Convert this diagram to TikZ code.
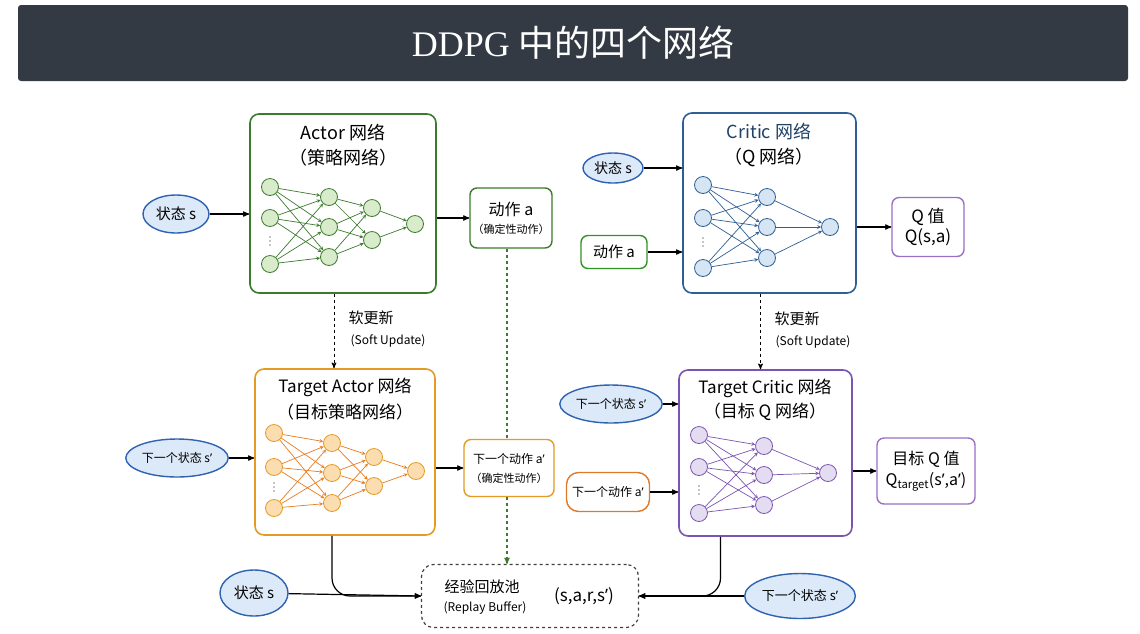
\documentclass[tikz,border=0pt]{standalone}
\usepackage{fontspec}
\setmainfont{Noto Sans CJK SC}
\newfontfamily\titlefont{Liberation Serif}
\newfontfamily\latinfont{Noto Sans}
\usepackage{tikz}
\usetikzlibrary{arrows,positioning,calc,shapes.geometric}
\definecolor{titlebg}{HTML}{333A44}
\definecolor{agreen}{HTML}{3C7A2E}
\definecolor{agreenl}{HTML}{D8ECCB}
\definecolor{cblue}{HTML}{2E5E93}
\definecolor{cbluel}{HTML}{D5E5F4}
\definecolor{torange}{HTML}{E39B25}
\definecolor{torangel}{HTML}{FBDDB0}
\definecolor{tpurple}{HTML}{7B54B0}
\definecolor{tpurplel}{HTML}{E4DCF1}
\definecolor{eblue}{HTML}{2F62B0}
\definecolor{ebluel}{HTML}{DCE9F8}
\definecolor{ored}{HTML}{E0782A}
\definecolor{qpurple}{HTML}{9B6FC4}
\newcommand{\fs}[1]{\fontsize{#1}{#1}\selectfont}
\newcommand{\pr}{{\latinfont ’}}

\begin{document}
\begin{tikzpicture}[x=1pt, y=-1pt, >=stealth', font=\fs{15}]
\tikzstyle{netbox}=[draw, rounded corners=9pt, line width=1.6pt, fill=white]
\tikzstyle{iobox}=[ellipse, draw=eblue, fill=ebluel, line width=1.4pt, inner sep=1pt]
\tikzstyle{outbox}=[draw, rounded corners=7pt, line width=1.4pt, fill=white, align=center, inner sep=2pt]
\tikzstyle{neuron}=[circle, minimum size=17pt, inner sep=0pt, line width=0.8pt]
\tikzstyle{synapse}=[->, >=stealth, line width=0.7pt]
\tikzstyle{mainarrow}=[->, line width=1.2pt]
\tikzstyle{softarrow}=[->, dashed, line width=1pt]
\useasboundingbox (0,0) rectangle (1140,633);
\fill[white] (0,0) rectangle (1140,633);
\fill[titlebg, rounded corners=3pt] (18,5) rectangle (1128,81);
\node[text=white, font=\fs{36}] (T) at (573,43) {{\titlefont DDPG} 中的四个网络};

\node[netbox, draw=agreen, minimum width=186pt, minimum height=179pt] (A) at (343,203.5) {};
\node[font=\fs{18}] (A1) at (343,133) {Actor 网络};
\node[font=\fs{18}] (A2) at (343,158) {（策略网络）};
\foreach \y [count=\i] in {187,218,264} \node[neuron, draw=agreen, fill=agreenl] (a1\i) at (270,\y) {};
\foreach \y [count=\i] in {197,227,257} \node[neuron, draw=agreen, fill=agreenl] (a2\i) at (329,\y) {};
\foreach \y [count=\i] in {208,240} \node[neuron, draw=agreen, fill=agreenl] (a3\i) at (372,\y) {};
\node[neuron, draw=agreen, fill=agreenl] (a41) at (415,224) {};
\foreach \d in {-4,0,4} \fill (270,241+\d) circle (0.7pt);
\foreach \i in {1,2,3} \foreach \j in {1,2,3} \draw[synapse, agreen] (a1\i) -- (a2\j);
\foreach \i in {1,2,3} \foreach \j in {1,2} \draw[synapse, agreen] (a2\i) -- (a3\j);
\foreach \j in {1,2} \draw[synapse, agreen] (a3\j) -- (a41);

\node[iobox, minimum width=66pt, minimum height=38pt] (S1) at (176,214) {状态 s};
\node[outbox, draw=agreen, minimum width=82pt, minimum height=60pt] (Ao) at (511,218) {{\fs{16}动作 a}\\[3pt]{\fs{11}（确定性动作）}};
\draw[mainarrow] (S1) -- (A.west |- S1);
\draw[mainarrow] (A.east |- Ao) -- (Ao);

\node[netbox, draw=cblue, minimum width=173pt, minimum height=180pt] (C) at (769.5,203) {};
\node[font=\fs{18}, text=cblue!70!black] (C1) at (769,132) {Critic 网络};
\node[font=\fs{18}] (C2) at (769,157) {（Q 网络）};
\foreach \y [count=\i] in {185,218,268} \node[neuron, draw=cblue, fill=cbluel] (c1\i) at (703,\y) {};
\foreach \y [count=\i] in {197,227,258} \node[neuron, draw=cblue, fill=cbluel] (c2\i) at (767,\y) {};
\node[neuron, draw=cblue, fill=cbluel] (c31) at (830,227) {};
\foreach \d in {-4,0,4} \fill (703,242+\d) circle (0.7pt);
\foreach \i in {1,2,3} \foreach \j in {1,2,3} \draw[synapse, cblue] (c1\i) -- (c2\j);
\foreach \i in {1,2,3} \draw[synapse, cblue] (c2\i) -- (c31);

\node[iobox, minimum width=60pt, minimum height=30pt] (S2) at (613,168) {\fs{14}状态 s};
\node[outbox, draw=agreen!80!green, minimum width=66pt, minimum height=33pt] (Ca) at (614,252) {动作 a};
\node[outbox, draw=qpurple, minimum width=72pt, minimum height=59pt] (Q) at (928,227) {{\fs{17}Q 值}\\[2pt]{\fs{17}Q(s,a)}};
\draw[mainarrow] (S2) -- (C.west |- S2);
\draw[mainarrow] (Ca) -- (C.west |- Ca);
\draw[mainarrow] (C.east |- Q) -- (Q);

\node[netbox, draw=torange, minimum width=180pt, minimum height=166pt] (TA) at (345,452) {};
\node[font=\fs{17}] (TA1) at (345,387) {Target Actor 网络};
\node[font=\fs{17}] (TA2) at (345,412) {（目标策略网络）};
\foreach \y [count=\i] in {433,467,508} \node[neuron, draw=torange, fill=torangel] (t1\i) at (274,\y) {};
\foreach \y [count=\i] in {443,473,503} \node[neuron, draw=torange, fill=torangel] (t2\i) at (332,\y) {};
\foreach \y [count=\i] in {457,486} \node[neuron, draw=torange, fill=torangel] (t3\i) at (374,\y) {};
\node[neuron, draw=torange, fill=torangel] (t41) at (416,471) {};
\foreach \d in {-4,0,4} \fill (274,487+\d) circle (0.7pt);
\foreach \i in {1,2,3} \foreach \j in {1,2,3} \draw[synapse, torange!80!red] (t1\i) -- (t2\j);
\foreach \i in {1,2,3} \foreach \j in {1,2} \draw[synapse, torange!80!red] (t2\i) -- (t3\j);
\foreach \j in {1,2} \draw[synapse, torange!80!red] (t3\j) -- (t41);

\node[iobox, minimum width=80pt, minimum height=38pt] (S3) at (177,458) {\fs{12}下一个状态 s\pr};
\node[outbox, draw=torange, minimum width=90pt, minimum height=57pt] (TAo) at (509,468) {{\fs{12}下一个动作 a\pr}\\[4pt]{\fs{11}（确定性动作）}};
\draw[mainarrow] (S3) -- (TA.west |- S3);
\draw[mainarrow] (TA.east |- TAo) -- (TAo);

\node[netbox, draw=tpurple, minimum width=173pt, minimum height=166pt] (TC) at (765.5,453) {};
\node[font=\fs{17}] (TC1) at (765,388) {Target Critic 网络};
\node[font=\fs{17}] (TC2) at (765,412) {（目标 Q 网络）};
\foreach \y [count=\i] in {435,467,513} \node[neuron, draw=tpurple, fill=tpurplel] (p1\i) at (699,\y) {};
\foreach \y [count=\i] in {446,475,505} \node[neuron, draw=tpurple, fill=tpurplel] (p2\i) at (764,\y) {};
\node[neuron, draw=tpurple, fill=tpurplel] (p31) at (828,473) {};
\foreach \d in {-4,0,4} \fill (699,490+\d) circle (0.7pt);
\foreach \i in {1,2,3} \foreach \j in {1,2,3} \draw[synapse, tpurple] (p1\i) -- (p2\j);
\foreach \i in {1,2,3} \draw[synapse, tpurple] (p2\i) -- (p31);

\node[iobox, minimum width=73pt, minimum height=38pt] (S4) at (611,404) {\fs{12}下一个状态 s\pr};
\node[outbox, draw=ored, rounded corners=12pt, minimum width=83pt, minimum height=39pt] (TCa) at (608,492) {\fs{12}下一个动作 a\pr};
\node[outbox, draw=qpurple, minimum width=98pt, minimum height=66pt] (TQ) at (926,471) {{\fs{16}目标 Q 值}\\[4pt]{\fs{16}Q\textsubscript{target}(s\pr,a\pr)}};
\draw[mainarrow] (S4) -- (TC.west |- S4);
\draw[mainarrow] (TCa) -- (TC.west |- TCa);
\draw[mainarrow] (TC.east |- TQ) -- (TQ);

\draw[softarrow] ([xshift=-9pt]A.south) -- ([xshift=-9pt]A.south |- TA.north);
\node[font=\fs{15}] (U1) at (371,318) {软更新};
\node[font=\fs{12}] (U2) at (388,341) {(Soft Update)};
\draw[softarrow] ([xshift=-9pt]C.south) -- ([xshift=-9pt]C.south |- TC.north);
\node[font=\fs{15}] (U3) at (797,319) {软更新};
\node[font=\fs{12}] (U4) at (813,342) {(Soft Update)};

\node[draw=black!75, dashed, rounded corners=12pt, line width=1.2pt, minimum width=217pt, minimum height=63pt, fill=white] (R) at (530,596) {};
\node[font=\fs{15}] (R1) at (482,587) {经验回放池};
\node[font=\fs{12}] (R2) at (485,608) {(Replay Buffer)};
\node[font=\fs{17}] (R3) at (584,596) {(s,a,r,s\pr)};

\draw[agreen, dashed, line width=1.2pt] ([xshift=-4pt]Ao.south) -- ([xshift=-4pt]Ao.south |- TAo.north);
\draw[agreen, softarrow, line width=1.2pt] ([xshift=-4pt]Ao.south |- TAo.south) -- ([xshift=-4pt]Ao.south |- R.north);

\node[iobox, minimum width=68pt, minimum height=46pt] (S5) at (254,593) {状态 s};
\node[iobox, minimum width=95pt, minimum height=45pt] (S6) at (800,596) {\fs{13}下一个状态 s\pr};
\draw[mainarrow, rounded corners=18pt] ([xshift=-13pt]TA.south) |- (R.west);
\draw[mainarrow] (S5) -- (R.west);
\draw[mainarrow, rounded corners=18pt] ([xshift=-45pt]TC.south) |- (R.east);
\draw[mainarrow] (S6) -- (R.east);
\end{tikzpicture}
\end{document}
